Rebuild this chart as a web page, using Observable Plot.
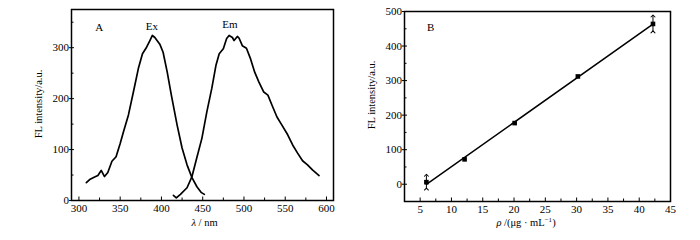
<!DOCTYPE html>
<html><head><meta charset="utf-8">
<script src="https://cdn.jsdelivr.net/npm/d3@7"></script>
<script src="https://cdn.jsdelivr.net/npm/@observablehq/plot@0.6"></script>
<style>
html,body{margin:0;padding:0;background:#fff;}
#wrap{position:relative;width:700px;height:240px;overflow:hidden;}
#wrap svg{position:absolute;top:0;}
</style></head><body><div id="wrap"></div>
<script>
// Panel A: excitation / emission spectra
const exWavelength = [309,313,319,323,327,331,335,340,345,350,354,360,366,372,377,382,386,389,392,398,402,407,412,419,425,431,437,443,448,452];
const exIntensity  = [35,41,46,49,59,47,55,77,86,112,135,168,213,259,288,301,314,324,320,307,291,252,207,148,103,70,45,27,16,12];
const emWavelength = [414.5,418,423,431,437,443,449,455,461,466,470,475,479,482,486,488,492,494,498,503,508,513,518,524,529,534,540,546,553,559,565,571,577,583,591];
const emIntensity  = [10,5,12,25,47,85,122,174,220,265,288,298,318,324,320,314,322,319,304,299,278,252,233,213,207,187,164,148,129,109,93,78,70,60,49];
const xTicksA = [300,350,400,450,500,550,600];
const xMinorA = [325,375,425,475,525,575];
const yTicksA = [0,100,200,300];
const yMinorA = [50,150,250,350];
const labelsA = [{t:"A",x:324.5,y:340},{t:"Ex",x:388.5,y:342},{t:"Em",x:483,y:346}];

// Panel B: calibration
const concentration = [6, 12.1, 20.1, 30.2, 42.2];
const intensityB    = [6, 72, 177, 312, 464];
const errorB        = [20, 0, 0, 0, 23];
const xTicksB = [5,10,15,20,25,30,35,40,45];
const xMinorB = [7.5,12.5,17.5,22.5,27.5,32.5,37.5,42.5];
const yTicksB = [0,100,200,300,400,500];
const yMinorB = [-50,50,150,250,350,450];
const labelsB = [{t:"B",x:6.7,y:455}];

const serif = "'Liberation Serif','Times New Roman',serif";
const style = {fontFamily: serif, fontSize: "11px", color: "#000", background: "transparent", overflow: "visible"};

const specEx = exWavelength.map((x,i)=>({x, y: exIntensity[i]}));
const specEm = emWavelength.map((x,i)=>({x, y: emIntensity[i]}));

const p1 = Plot.plot({
  width: 350, height: 240, marginLeft: 71, marginRight: 17, marginTop: 9, marginBottom: 40,
  style,
  x: {domain: [291, 608.5]},
  y: {domain: [0, 375]},
  marks: [
    Plot.axisX({ticks: xTicksA, tickSize: 0, tickPadding: 4, label: null}),
    Plot.axisX({ticks: xTicksA, tickSize: -3.5, text: null, label: null}),
    Plot.axisX({ticks: xMinorA, tickSize: -2.5, text: null, label: null}),
    Plot.axisY({ticks: yTicksA, tickSize: 0, tickPadding: 2.5, label: null}),
    Plot.axisY({ticks: yTicksA, tickSize: 2, text: null, label: null}),
    Plot.axisY({ticks: yTicksA, tickSize: -3, text: null, label: null}),
    Plot.axisY({ticks: yMinorA, tickSize: -2.5, text: null, label: null}),
    Plot.line(specEx, {x: "x", y: "y", stroke: "#000", strokeWidth: 1.7}),
    Plot.line(specEm, {x: "x", y: "y", stroke: "#000", strokeWidth: 1.7}),
    Plot.text(labelsA, {x: "x", y: "y", text: "t", fontSize: 11}),
    Plot.frame({stroke: "#000", strokeWidth: 1.5})
  ]
});

const calib = concentration.map((x,i)=>({x, y: intensityB[i], e: errorB[i]}));
const p2 = Plot.plot({
  width: 350, height: 240, marginLeft: 54, marginRight: 30, marginTop: 11, marginBottom: 39,
  style,
  x: {domain: [2.5, 45]},
  y: {domain: [-50, 500]},
  marks: [
    Plot.axisX({ticks: xTicksB, tickSize: 0, tickPadding: 4, label: null}),
    Plot.axisX({ticks: xTicksB, tickSize: -3.5, text: null, label: null}),
    Plot.axisX({ticks: xMinorB, tickSize: -2.5, text: null, label: null}),
    Plot.axisY({ticks: yTicksB, tickSize: 0, tickPadding: 2.5, label: null}),
    Plot.axisY({ticks: yTicksB, tickSize: 2, text: null, label: null}),
    Plot.axisY({ticks: yTicksB, tickSize: -3, text: null, label: null}),
    Plot.axisY({ticks: yMinorB, tickSize: -2.5, text: null, label: null}),
    Plot.linearRegressionY(calib, {x: "x", y: "y", ci: 0, stroke: "#000", strokeWidth: 1.5}),
    Plot.link(calib.filter(d=>d.e>0), {x1: "x", x2: "x", y1: d=>d.y-d.e, y2: d=>d.y+d.e, stroke: "#000", strokeWidth: 1, markerStart: "arrow", markerEnd: "arrow"}),
    Plot.dot(calib, {x: "x", y: "y", symbol: "square", r: 2.6, fill: "#000", stroke: "none"}),
    Plot.text(labelsB, {x: "x", y: "y", text: "t", fontSize: 11}),
    Plot.frame({stroke: "#000", strokeWidth: 1.5})
  ]
});

const wrap = document.getElementById("wrap");
p1.style.left = "0px";
p2.style.left = "350px";
wrap.appendChild(p1);
wrap.appendChild(p2);

function title(svg, x, y, parts, rotate) {
  const t = d3.select(svg).append("text")
    .attr("transform", `translate(${x},${y})` + (rotate ? " rotate(-90)" : ""))
    .attr("text-anchor", "middle")
    .attr("font-family", serif).attr("font-size", 10.5).attr("fill", "#000");
  for (const p of parts) {
    const s = t.append("tspan").text(p.s);
    if (p.i) s.attr("font-style", "italic");
    if (p.dy) s.attr("dy", p.dy);
    if (p.fs) s.attr("font-size", p.fs);
  }
}
title(p1, 204.5, 226, [{s:"λ", i:true},{s:" / nm"}]);
title(p1, 41.5, 104, [{s:"FL intensity/a.u."}], true);
title(p2, 25, 95, [{s:"FL intensity/a.u."}], true);
title(p2, 176, 226, [{s:"ρ", i:true},{s:" /(μg · mL"},{s:"−1", dy:-4, fs:7},{s:")", dy:4}]);
</script>
</body></html>
